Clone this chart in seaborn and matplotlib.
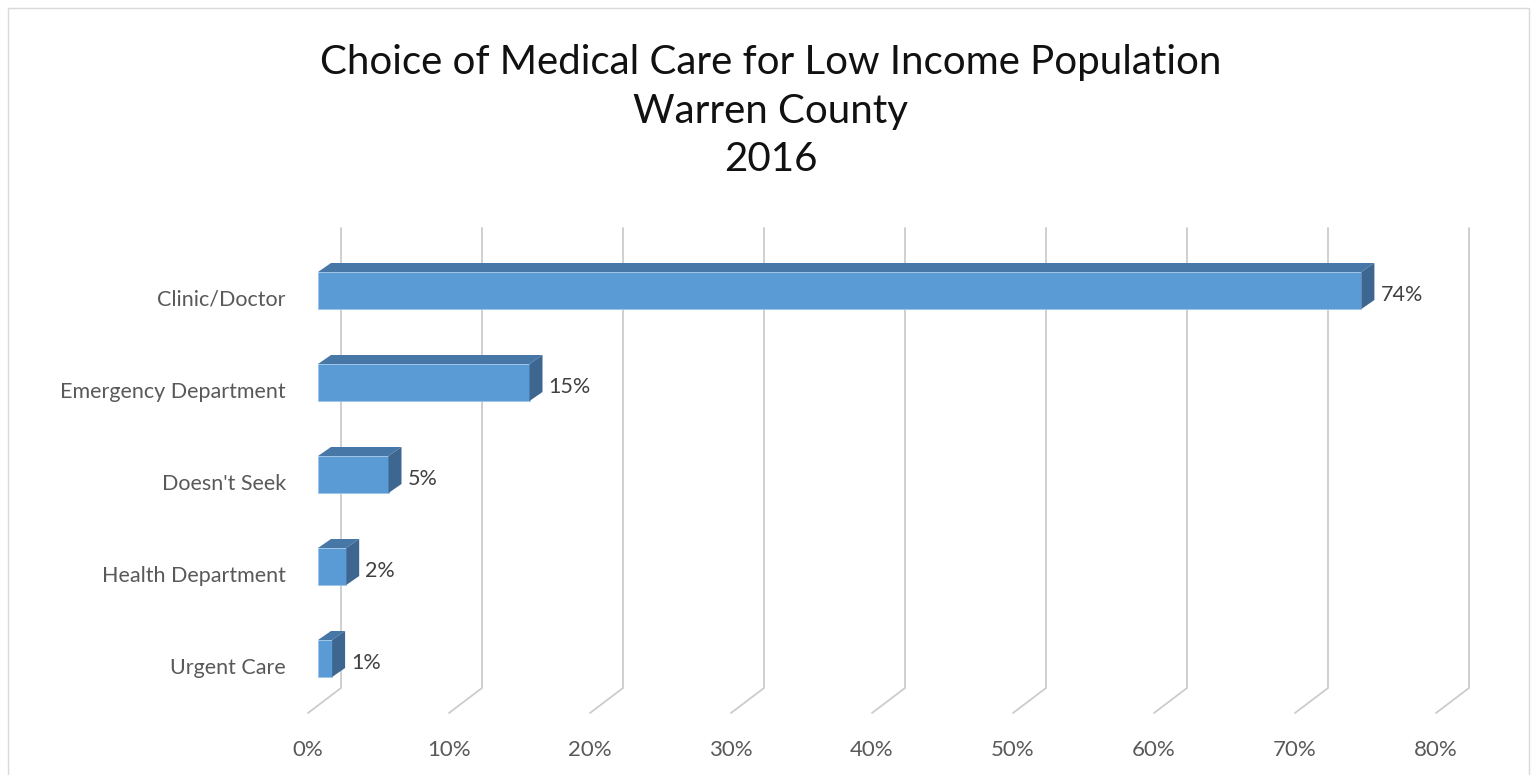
import seaborn as sns
import pandas as pd
import matplotlib.pyplot as plt
from matplotlib.patches import Polygon, Rectangle
from matplotlib.transforms import ScaledTranslation

categories = ["Clinic/Doctor", "Emergency Department", "Doesn't Seek", "Health Department", "Urgent Care"]
shares = [74, 15, 5, 2, 1]
tick_values = [0, 10, 20, 30, 40, 50, 60, 70, 80]
tick_labels = ["0%", "10%", "20%", "30%", "40%", "50%", "60%", "70%", "80%"]

df = pd.DataFrame({"Care": categories, "Share": shares})

sns.set_style("white")
plt.rcParams["font.family"] = ["Lato", "DejaVu Sans"]

W, H = 1537, 775
fig = plt.figure(figsize=(W / 100, H / 100), dpi=100)

# axes placed in pixels: x pixel = 318 + 14.1*v, y pixel = 290.5 + 92*i
px_per_pct = 14.1
px_per_cat = 92
ax_l, ax_r, ax_t, ax_b = 290, 1490, 220, 725
ax = fig.add_axes([ax_l / W, 1 - ax_b / H, (ax_r - ax_l) / W, (ax_b - ax_t) / H])

front = "#5b9bd5"
top_c = "#4677a6"
side_c = "#3d6690"
bar_h = 37 / px_per_cat

sns.barplot(data=df, x="Share", y="Care", orient="h", color=front, width=bar_h,
            saturation=1, edgecolor="#9cc3e6", linewidth=0.6, ax=ax, zorder=3)

ax.set_xlim((ax_l - 318) / px_per_pct, (ax_r - 318) / px_per_pct)
ax.set_ylim((ax_b - 290.5) / px_per_cat, (ax_t - 290.5) / px_per_cat)

# 3d faces
dx = 13 / px_per_pct
dy = -9 / px_per_cat
for i, v in enumerate(shares):
    y0 = i - bar_h / 2
    y1 = i + bar_h / 2
    ax.add_patch(Polygon([(0, y0), (v, y0), (v + dx, y0 + dy), (dx, y0 + dy)],
                         closed=True, facecolor=top_c, edgecolor="none", zorder=3))
    ax.add_patch(Polygon([(v, y0), (v + dx, y0 + dy), (v + dx, y1 + dy), (v, y1)],
                         closed=True, facecolor=side_c, edgecolor="none", zorder=3))
    ax.text(v + 1.35, i + 0.05, f"{v}%", va="center", ha="left", fontsize=15.5, color="#404040")

# back-wall gridlines with floor diagonal
back_dx = 23 / px_per_pct
floor_dx = -10 / px_per_pct
g_top = (228 - 290.5) / px_per_cat
g_bot = (688 - 290.5) / px_per_cat
g_floor = (713 - 290.5) / px_per_cat
for t in tick_values:
    ax.plot([t + back_dx, t + back_dx, t + floor_dx], [g_top, g_bot, g_floor],
            color="#cccccc", lw=1.3, zorder=1, solid_joinstyle="miter")

ax.set_xticks([t + floor_dx for t in tick_values])
ax.set_xticklabels(tick_labels)
ax.tick_params(axis="x", length=0, pad=11, labelsize=16, labelcolor="#595959")
ax.tick_params(axis="y", length=0, pad=3, labelsize=15.5, labelcolor="#595959")
# category labels sit a little below the bar centres
shift = ScaledTranslation(0, -7 / 100, fig.dpi_scale_trans)
for lab in ax.get_yticklabels():
    lab.set_transform(lab.get_transform() + shift)
ax.set_xlabel("")
ax.set_ylabel("")
for s in ax.spines.values():
    s.set_visible(False)

fig.text(771 / W, 1 - 111 / H,
         "Choice of Medical Care for Low Income Population\nWarren County\n2016",
         ha="center", va="center", fontsize=29, color="#111111", linespacing=1.38)

fig.patches.append(Rectangle((8 / W, -0.1), (1529 - 8) / W, 1 - 8 / H + 0.1,
                             transform=fig.transFigure, fill=False,
                             edgecolor="#d9d9d9", lw=1))

fig.savefig("out.png", dpi=100)
